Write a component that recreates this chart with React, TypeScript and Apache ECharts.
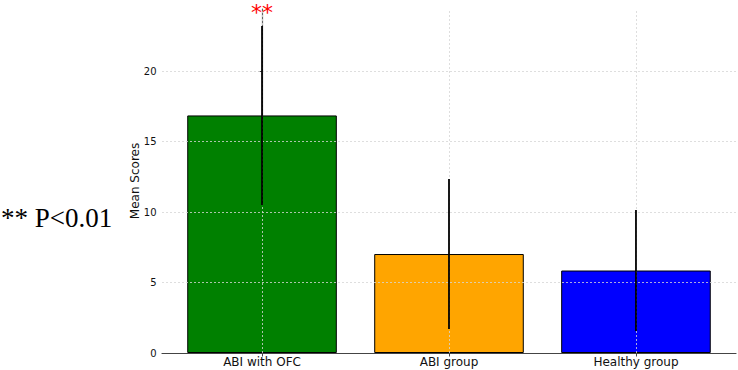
import React, { useEffect, useRef } from "react";
import * as echarts from "echarts";

// Group labels, mean scores and standard deviations
const groups = ["ABI with OFC", "ABI group", "Healthy group"];
const meanScores = [16.85, 7.02, 5.85];
const stdDevs = [6.35, 5.32, 4.29];
const barColors = ["#008000", "#FFA500", "#0000FF"];
const significance = ["**", "", ""];
const yTicks = [0, 5, 10, 15, 20];

const WIDTH = 738;
const HEIGHT = 370;
const GRID = { left: 162, top: 9, width: 574, height: 344 };
const X_MIN = -0.535;
const X_MAX = 2.535;
const Y_MAX = 24.4;
const BAR_FRACTION = 0.8;

const FONT = "DejaVu Sans";

export default function App() {
  const ref = useRef<HTMLDivElement>(null);

  useEffect(() => {
    if (!ref.current) return;
    const chart = echarts.init(ref.current, undefined, { renderer: "svg" });

    const pxPerUnit = GRID.width / (X_MAX - X_MIN);
    const barWidth = BAR_FRACTION * pxPerUnit;
    const idx = groups.map((_, i) => i);

    const gridLineStyle = { color: "#d6d6d6", width: 0.8, type: [2, 2] as any };

    chart.setOption({
      animation: false,
      grid: { ...GRID, containLabel: false },
      xAxis: {
        type: "value",
        min: X_MIN,
        max: X_MAX,
        axisLine: { show: true, onZero: false, lineStyle: { color: "#444", width: 1.2 } },
        axisTick: { show: true, length: 3.5, inside: false, customValues: idx, lineStyle: { color: "#444" } },
        axisLabel: {
          customValues: idx,
          formatter: (v: number) => groups[Math.round(v)] ?? "",
          fontFamily: FONT,
          fontSize: 12,
          color: "#111",
          margin: 3,
        },
        splitLine: { show: false },
      },
      yAxis: {
        type: "value",
        min: 0,
        max: Y_MAX,
        name: "Mean Scores",
        nameLocation: "middle",
        nameGap: 21,
        nameMoveOverlap: false,
        nameTextStyle: { fontFamily: FONT, fontSize: 12, color: "#111" },
        axisLine: { show: true, lineStyle: { color: "#666", width: 1.2 } },
        axisTick: { show: true, length: 3.5, customValues: yTicks, lineStyle: { color: "#444" } },
        axisLabel: {
          customValues: yTicks,
          fontFamily: FONT,
          fontSize: 10,
          color: "#111",
          margin: 5.5,
        },
        splitLine: { show: false },
      },
      series: [
        {
          type: "bar",
          z: 2,
          barWidth,
          data: meanScores.map((m, i) => ({
            value: [i, m],
            itemStyle: { color: barColors[i], borderColor: "#000", borderWidth: 1 },
          })),
        },
        {
          // dotted grid drawn above the bars
          type: "line",
          z: 3,
          data: [],
          silent: true,
          markLine: {
            z: 3,
            silent: true,
            symbol: "none",
            label: { show: false },
            lineStyle: gridLineStyle,
            data: [
              ...yTicks.filter((t) => t > 0).map((t) => ({ yAxis: t })),
              ...idx.map((i) => ({ xAxis: i })),
            ],
          },
        },
        {
          type: "custom",
          z: 8,
          data: meanScores.map((m, i) => [i, m - stdDevs[i], m + stdDevs[i]]),
          renderItem: (params: any, api: any) => {
            const i = params.dataIndex;
            const lo = api.coord([api.value(0), api.value(1)]);
            const hi = api.coord([api.value(0), api.value(2)]);
            const children: any[] = [
              {
                type: "line",
                shape: { x1: lo[0], y1: lo[1], x2: hi[0], y2: hi[1] },
                style: { stroke: "#000", lineWidth: 1.8 },
              },
            ];
            if (significance[i]) {
              children.push({
                type: "text",
                x: hi[0],
                y: hi[1] - 13,
                style: {
                  text: significance[i],
                  fill: "#ff0000",
                  fontFamily: FONT,
                  fontSize: 22,
                  lineHeight: 16,
                  align: "center",
                  verticalAlign: "middle",
                },
              });
            }
            return { type: "group", children };
          },
        },
      ],
      graphic: [
        {
          type: "text",
          left: 1,
          top: 204,
          style: {
            text: "** P<0.01",
            fontFamily: "Liberation Serif",
            fontSize: 27,
            fill: "#000",
          },
        },
      ],
    });

    return () => chart.dispose();
  }, []);

  return (
    <div
      ref={ref}
      style={{ position: "fixed", left: 0, top: 0, width: WIDTH, height: HEIGHT, background: "#fff" }}
    />
  );
}
